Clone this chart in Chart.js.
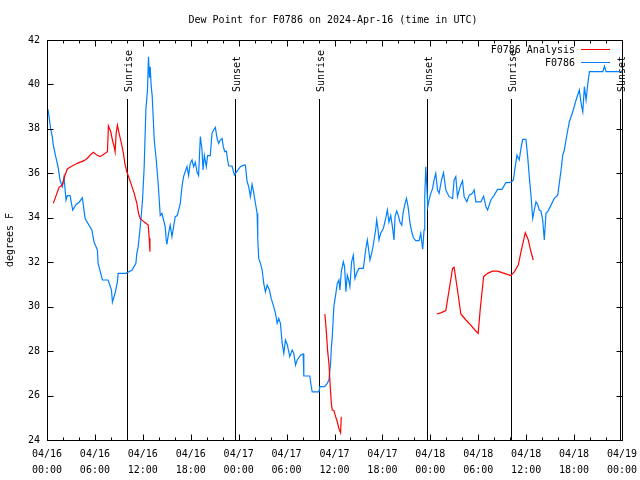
<!DOCTYPE html>
<html>
<head>
<meta charset="utf-8">
<script src="https://cdn.jsdelivr.net/npm/chart.js@4/dist/chart.umd.min.js"></script>
<style>
  html, body { margin: 0; padding: 0; background: #fff; }
  #wrap { width: 640px; height: 480px; }
</style>
</head>
<body>
<div id="wrap"><canvas id="dewChart" width="640" height="480"></canvas></div>
<script>
// ---- data (x = hours since 2024-04-16 00:00 UTC) ----
const stationHours = [0.13,0.46,0.66,0.79,1.09,1.38,1.63,1.92,2.13,2.38,2.55,2.89,3.22,3.64,4.02,4.43,4.77,5.61,5.9,6.31,6.4,6.94,7.65,8.07,8.19,8.57,8.82,8.91,9.87,10.66,11.13,11.25,11.42,11.76,11.96,12.17,12.38,12.58,12.71,12.83,12.92,13.05,13.17,13.43,13.68,13.93,14.18,14.39,14.59,14.8,14.93,15.01,15.22,15.43,15.65,15.81,16.06,16.31,16.69,16.9,17.1,17.31,17.53,17.73,17.94,18.16,18.36,18.57,18.78,18.98,19.2,19.41,19.54,19.7,19.95,20.11,20.45,20.66,20.87,21.08,21.29,21.49,21.71,21.92,22.08,22.25,22.46,22.62,22.75,23.17,23.46,23.8,24.22,24.63,24.84,25.06,25.26,25.47,25.68,25.85,26.1,26.31,26.39,26.51,26.73,26.94,27.14,27.35,27.57,27.85,28.07,28.39,28.61,28.82,29.02,29.23,29.45,29.65,29.86,30.08,30.4,30.7,30.9,31.12,31.33,31.74,32.08,32.16,32.91,33.09,33.21,34.04,34.17,34.76,35.09,35.3,35.51,35.6,35.72,35.92,36.14,36.35,36.55,36.68,36.85,37.1,37.26,37.43,37.6,37.77,37.93,38.14,38.36,38.56,38.77,39.06,39.61,39.77,39.9,40.11,40.28,40.44,40.65,40.82,41.15,41.28,41.44,41.57,41.78,42.12,42.41,42.62,42.82,43.04,43.25,43.45,43.58,43.79,44.0,44.2,44.42,44.58,44.79,45.01,45.21,45.46,45.67,45.88,46.17,46.59,46.8,46.93,47.05,47.21,47.3,47.43,47.55,47.68,47.84,48.06,48.27,48.47,48.68,48.9,49.1,49.4,49.65,49.94,50.35,50.78,50.98,51.19,51.4,51.73,52.03,52.23,52.57,52.86,53.28,53.49,53.7,54.33,54.67,54.96,55.17,55.58,56.0,56.42,56.96,57.47,57.88,58.18,58.4,58.63,58.85,59.13,59.35,59.56,59.97,60.19,60.39,60.6,60.82,61.02,61.23,61.44,61.64,61.86,62.07,62.27,62.48,62.74,63.11,63.53,63.95,64.15,64.37,64.58,64.78,64.99,65.21,65.41,65.83,66.25,66.66,66.88,67.09,67.29,67.5,67.72,67.92,69.6,69.8,70.01,71.9];
const stationDew = [38.88,38.0,37.65,37.27,36.75,36.3,35.7,35.4,35.85,34.8,35.0,35.0,34.35,34.6,34.7,34.9,33.97,33.45,32.9,32.55,31.95,31.2,31.2,30.75,30.2,30.67,31.13,31.5,31.5,31.65,31.95,32.4,32.7,33.9,34.8,36.3,38.85,39.75,41.25,40.3,40.8,39.9,39.5,37.5,36.6,35.5,34.1,34.2,33.9,33.6,33.0,32.8,33.3,33.67,33.15,33.5,34.05,34.1,34.65,35.4,35.85,36.07,36.3,35.9,36.45,36.6,36.3,36.5,36.07,35.9,37.65,37.05,36.15,36.8,36.3,36.8,36.8,37.8,37.95,38.07,37.6,37.35,37.5,37.57,37.2,36.97,37.0,36.6,36.33,36.33,35.92,36.1,36.3,36.37,36.37,35.62,35.4,34.95,35.5,35.2,34.65,34.2,33.08,32.17,31.95,31.65,31.05,30.67,30.97,30.75,30.37,30.0,29.7,29.25,29.47,29.25,28.35,27.9,28.5,28.3,27.75,28.05,27.9,27.37,27.6,27.82,27.87,26.88,26.88,26.4,26.17,26.17,26.4,26.4,26.55,26.7,27.45,28.13,28.65,30.0,30.52,31.05,31.2,30.75,31.57,32.02,31.8,30.67,31.42,31.2,30.9,32.02,32.32,31.27,31.5,31.72,31.72,32.17,32.55,33.0,32.55,32.1,32.4,32.7,33.45,33.9,33.5,33.0,33.3,33.52,33.97,34.35,33.8,34.1,33.6,33.0,34.05,34.3,34.1,33.8,33.67,34.2,34.57,34.87,34.5,33.75,33.37,33.1,32.97,32.97,33.3,32.9,32.58,33.45,34.95,36.3,35.5,34.5,34.8,35.1,35.3,35.7,36.0,35.25,35.1,35.7,36.03,35.25,34.95,34.87,35.7,35.85,34.95,35.4,35.67,34.95,34.72,35.02,35.1,35.25,34.72,34.72,34.97,34.5,34.35,34.8,35.02,35.28,35.28,35.58,35.58,35.62,35.7,36.3,36.82,36.6,37.12,37.53,37.53,36.75,35.85,35.02,33.97,34.35,34.72,34.6,34.35,34.3,33.9,33.0,34.2,34.3,34.57,34.87,35.02,35.55,36.15,36.82,37.05,37.5,37.95,38.32,38.77,39.3,39.75,39.15,38.77,39.9,39.3,40.05,40.58,40.58,40.83,40.58,40.58];

// analysis series, null = gap
const analysisHours = [0.79,1.09,1.51,1.92,2.22,2.55,2.97,3.8,4.64,5.06,5.48,5.81,6.24,6.65,7.06,7.57,7.69,7.99,8.19,8.41,8.53,8.66,8.82,9.03,9.32,9.57,9.75,10.0,10.29,10.58,10.92,11.25,11.46,11.67,11.96,12.38,12.67,12.8,12.89,
  20,
  34.79,34.88,35.01,35.13,35.3,35.42,35.6,35.72,35.92,36.14,36.35,36.55,36.76,36.85,
  42,
  48.81,49.31,49.94,50.35,50.78,50.98,51.4,51.82,52.45,53.07,53.58,53.99,54.24,54.67,55.17,55.8,56.42,57.25,58.09,58.51,59.01,59.35,59.89,60.27,60.6,60.89];
const analysisDew = [34.65,34.95,35.37,35.47,35.88,36.2,36.3,36.45,36.57,36.68,36.85,36.95,36.82,36.75,36.85,36.97,38.13,37.87,37.5,37.2,36.97,37.8,38.17,37.8,37.35,36.9,36.45,36.07,35.77,35.47,35.1,34.65,34.2,33.97,33.87,33.75,33.67,33.08,32.47,
  null,
  29.67,29.32,28.72,28.05,27.45,26.7,25.65,25.35,25.33,25.05,24.82,24.52,24.33,25.05,
  null,
  29.67,29.72,29.82,30.75,31.72,31.77,30.75,29.67,29.4,29.17,28.95,28.8,29.85,31.35,31.5,31.6,31.6,31.5,31.4,31.57,31.87,32.47,33.33,33.0,32.47,32.1];

const sunHours = [10.07, 23.5, 34.04, 47.6, 58.13, 71.7];
const sunLabels = ["Sunrise", "Sunset", "Sunrise", "Sunset", "Sunrise", "Sunset"];

const dateLabels = ["04/16","04/16","04/16","04/16","04/17","04/17","04/17","04/17","04/18","04/18","04/18","04/18","04/19"];
const timeLabels = ["00:00","06:00","12:00","18:00","00:00","06:00","12:00","18:00","00:00","06:00","12:00","18:00","00:00"];
const yTicks = [24, 26, 28, 30, 32, 34, 36, 38, 40, 42];

const FONT = "'DejaVu Sans Mono', 'Liberation Mono', monospace";

function toPoints(xs, ys) {
    return xs.map((x, i) => ({ x: x, y: ys[i] }));
}

// ================= DECORATION PLUGIN =================
const gnuplotFrame = {
    id: "gnuplotFrame",
    beforeDatasetsDraw(chart) {
        const { ctx, chartArea: a, scales } = chart;
        ctx.save();
        ctx.strokeStyle = "#000";
        ctx.lineWidth = 1;
        ctx.fillStyle = "#000";
        ctx.font = "10px " + FONT;
        sunHours.forEach((h, i) => {
            const px = Math.round(scales.x.getPixelForValue(h)) + 0.5;
            ctx.beginPath();
            ctx.moveTo(px, 99);
            ctx.lineTo(px, a.bottom);
            ctx.stroke();
            ctx.save();
            ctx.translate(px + 4, 92);
            ctx.rotate(-Math.PI / 2);
            ctx.textAlign = "left";
            ctx.fillText(sunLabels[i], 0, 0);
            ctx.restore();
        });
        ctx.restore();
    },
    afterDraw(chart) {
        const { ctx, chartArea: a, scales } = chart;
        ctx.save();
        ctx.strokeStyle = "#000";
        ctx.lineWidth = 1;
        const L = Math.round(a.left) + 0.5, R = Math.round(a.right) + 0.5;
        const T = Math.round(a.top) + 0.5, B = Math.round(a.bottom) + 0.5;
        ctx.strokeRect(L, T, R - L, B - T);

        // x ticks: major every 6 h, minor every 2 h, mirrored on top
        ctx.beginPath();
        for (let h = 0; h <= 72; h += 2) {
            const px = Math.round(scales.x.getPixelForValue(h)) + 0.5;
            const len = h % 6 === 0 ? 6 : 3;
            ctx.moveTo(px, B); ctx.lineTo(px, B - len);
            ctx.moveTo(px, T); ctx.lineTo(px, T + len);
        }
        yTicks.forEach(v => {
            const py = Math.round(scales.y.getPixelForValue(v)) + 0.5;
            ctx.moveTo(L, py); ctx.lineTo(L + 6, py);
            ctx.moveTo(R, py); ctx.lineTo(R - 6, py);
        });
        ctx.stroke();

        // title + axis title
        ctx.fillStyle = "#000";
        ctx.font = "10px " + FONT;
        ctx.textAlign = "center";
        ctx.textBaseline = "middle";
        ctx.fillText("Dew Point for F0786 on 2024-Apr-16 (time in UTC)", 333, 20);
        ctx.save();
        ctx.translate(10, 240);
        ctx.rotate(-Math.PI / 2);
        ctx.fillText("degrees F", 0, 0);
        ctx.restore();

        // legend
        ctx.textAlign = "right";
        const rows = [["F0786 Analysis", "#ff0000", 50], ["F0786", "#0080ff", 63]];
        rows.forEach(([label, color, y]) => {
            ctx.fillStyle = "#000";
            ctx.fillText(label, 575, y);
            ctx.strokeStyle = color;
            ctx.beginPath();
            ctx.moveTo(581, y - 0.5);
            ctx.lineTo(610, y - 0.5);
            ctx.stroke();
        });
        ctx.restore();
    }
};

// ================= CHART =================
const dewCtx = document.getElementById("dewChart").getContext("2d");
new Chart(dewCtx, {
    type: "line",
    data: {
        datasets: [
            {
                label: "F0786 Analysis",
                data: toPoints(analysisHours, analysisDew),
                borderColor: "#ff0000",
                borderWidth: 1.2,
                pointRadius: 0,
                tension: 0,
                spanGaps: false,
            },
            {
                label: "F0786",
                data: toPoints(stationHours, stationDew),
                borderColor: "#0080ff",
                borderWidth: 1.2,
                pointRadius: 0,
                tension: 0,
            }
        ]
    },
    options: {
        responsive: false,
        animation: false,
        layout: { padding: { top: 40, right: 18, left: 0, bottom: 0 } },
        plugins: {
            legend: { display: false },
            title: { display: false },
            tooltip: { enabled: false }
        },
        scales: {
            x: {
                type: "linear",
                min: 0,
                max: 72,
                grid: { display: false, drawTicks: false },
                border: { display: false },
                afterFit(scale) {
                    scale.height = 40;
                    scale.paddingRight = 0;
                    scale.paddingLeft = 0;
                },
                afterBuildTicks(scale) {
                    scale.ticks = dateLabels.map((_, i) => ({ value: i * 6 }));
                },
                ticks: {
                    autoSkip: false,
                    maxRotation: 0,
                    padding: 6,
                    color: "#000",
                    font: { family: FONT, size: 10, lineHeight: 1.6 },
                    callback: (v) => {
                        const i = Math.round(v / 6);
                        return [dateLabels[i], timeLabels[i]];
                    }
                }
            },
            y: {
                min: 24,
                max: 42,
                grid: { display: false, drawTicks: false },
                border: { display: false },
                afterFit(scale) { scale.width = 47; },
                afterBuildTicks(scale) {
                    scale.ticks = yTicks.map(v => ({ value: v }));
                },
                ticks: {
                    padding: 7,
                    color: "#000",
                    font: { family: FONT, size: 10 },
                    callback: (v) => String(v)
                }
            }
        }
    },
    plugins: [gnuplotFrame]
});
</script>
</body>
</html>
